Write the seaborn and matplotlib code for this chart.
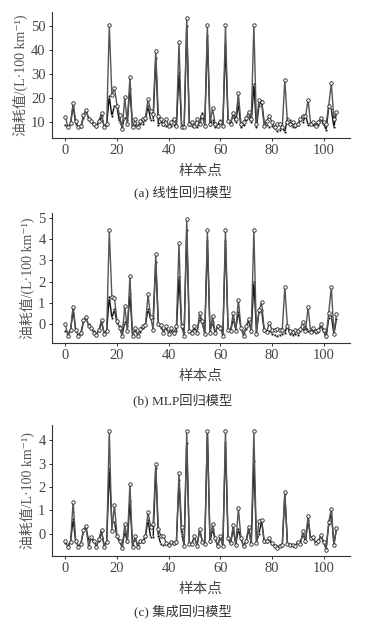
import numpy as np
import pandas as pd
import seaborn as sns
from matplotlib import pyplot as plt

# sample index 0..105
samples = list(range(106))

# (a) linear regression model: actual vs predicted
actual_a = [12.4, 7.9, 9.6, 17.9, 10.7, 7.9, 8.3, 13.0, 15.3, 11.4,
            10.7, 9.3, 8.3, 10.7, 13.9, 7.9, 9.3, 50.5, 21.4, 24.3,
            17.0, 13.0, 7.2, 20.4, 9.3, 29.0, 7.9, 11.4, 7.9, 10.7,
            11.4, 12.0, 19.7, 14.9, 13.5, 39.6, 12.5, 11.4, 9.3, 11.4,
            8.6, 10.0, 11.4, 8.6, 43.6, 7.9, 7.9, 53.6, 9.3, 10.0,
            8.6, 11.4, 9.3, 12.8, 8.6, 50.4, 9.3, 15.8, 9.3, 8.6,
            10.0, 8.6, 50.4, 10.7, 9.3, 13.9, 11.4, 22.2, 9.3, 10.0,
            12.0, 14.2, 11.4, 50.4, 9.3, 19.4, 18.3, 8.6, 10.7, 12.8,
            10.0, 7.9, 9.3, 9.3, 7.9, 27.6, 10.0, 9.3, 10.0, 8.9,
            9.3, 11.4, 12.8, 12.5, 19.4, 9.3, 10.0, 8.6, 10.0, 12.0,
            10.0, 9.3, 17.0, 26.3, 11.4, 14.4]
pred_a = [9.0, 8.0, 9.5, 17.0, 9.5, 8.5, 8.0, 12.0, 14.5, 12.0,
          10.0, 9.0, 8.0, 10.0, 12.5, 8.5, 9.0, 21.0, 12.5, 17.0,
          16.0, 10.0, 8.5, 12.0, 11.0, 24.0, 8.0, 9.0, 8.0, 9.5,
          9.5, 11.0, 17.0, 11.0, 11.0, 37.0, 9.0, 10.0, 9.0, 8.5,
          9.0, 8.5, 9.0, 8.5, 31.0, 9.0, 8.0, 50.0, 9.0, 8.5,
          9.0, 8.0, 10.0, 14.0, 9.0, 46.0, 9.0, 11.0, 8.0, 9.0,
          11.0, 9.0, 42.0, 11.0, 10.0, 13.0, 10.0, 18.0, 8.0, 9.0,
          11.0, 12.5, 10.0, 26.0, 8.0, 17.0, 19.0, 10.0, 9.0, 8.0,
          8.5, 7.5, 6.5, 7.0, 8.0, 6.0, 12.0, 11.0, 8.0, 8.0,
          9.0, 11.0, 10.0, 13.0, 9.0, 9.5, 9.0, 9.5, 9.0, 11.0,
          9.0, 7.0, 16.5, 15.5, 8.0, 14.0]

# (b) MLP regression model
actual_b = [0.0, -0.55, -0.25, 0.83, -0.25, -0.55, -0.4, 0.2, 0.33, -0.1,
            -0.15, -0.4, -0.5, -0.25, 0.2, -0.45, -0.3, 4.4, 1.3, 1.25,
            0.15, -0.15, -0.55, 0.88, -0.3, 2.28, -0.55, -0.15, -0.55, -0.2,
            -0.1, -0.05, 1.4, 0.35, -0.25, 3.3, 0.0, -0.05, -0.4, -0.1,
            -0.45, -0.15, -0.4, -0.1, 3.8, -0.1, -0.55, 4.95, -0.3, -0.4,
            -0.1, -0.4, 0.55, 0.15, -0.45, 4.4, -0.4, 0.4, -0.4, -0.1,
            -0.15, -0.55, 4.4, -0.25, -0.3, 0.55, -0.3, 1.15, -0.15, -0.55,
            -0.1, 0.25, -0.3, 4.4, -0.45, 0.65, 1.05, -0.25, -0.35, 0.08,
            -0.25, -0.25, -0.2, -0.25, -0.25, 1.75, -0.1, -0.3, -0.35, -0.28,
            -0.3, -0.2, 0.1, -0.3, 0.8, -0.35, -0.15, -0.3, -0.25, 0.0,
            -0.25, -0.55, 0.55, 1.75, -0.45, 0.5]
pred_b = [-0.3, -0.4, -0.3, 0.7, -0.3, -0.45, -0.45, 0.1, 0.25, 0.0,
          -0.2, -0.3, -0.45, -0.3, 0.1, -0.4, -0.3, 1.3, 0.3, 0.7,
          0.05, -0.1, -0.5, 0.1, -0.1, 1.4, -0.45, -0.3, -0.4, -0.35,
          -0.15, 0.0, 0.7, 0.3, 0.3, 2.9, 0.0, -0.15, -0.3, -0.2,
          -0.35, -0.3, -0.45, -0.3, 2.2, 0.0, -0.35, 4.4, -0.35, -0.3,
          -0.2, -0.35, 0.3, 0.05, -0.4, 3.9, -0.3, 0.1, -0.4, -0.05,
          -0.1, -0.45, 3.9, -0.2, -0.3, 0.25, -0.2, 0.6, -0.2, -0.4,
          -0.2, 0.2, -0.35, 2.0, -0.3, 0.6, 0.65, -0.3, -0.3, -0.3,
          -0.45, -0.5, -0.55, -0.5, -0.45, -0.4, -0.05, -0.45, -0.5, -0.45,
          -0.5, -0.3, -0.2, -0.1, -0.3, -0.35, -0.3, -0.4, -0.35, -0.05,
          -0.35, -0.6, 0.3, 0.4, -0.45, 0.25]

# (c) ensemble regression model
actual_c = [-0.33, -0.58, -0.37, 1.36, -0.3, -0.58, -0.44, 0.17, 0.31, -0.58,
            -0.16, -0.3, -0.58, -0.23, 0.17, -0.58, -0.37, 4.4, 0.13, 1.23,
            -0.1, -0.3, -0.62, 0.4, -0.3, 2.14, -0.58, -0.1, -0.58, -0.3,
            -0.3, -0.1, 0.93, 0.3, 0.4, 3.0, 0.2, -0.1, -0.1, -0.4,
            -0.5, -0.35, -0.4, -0.35, 2.6, 0.3, -0.55, 4.4, -0.45, -0.45,
            -0.1, -0.55, 0.2, -0.35, -0.45, 4.4, -0.3, 0.4, -0.2, -0.55,
            -0.1, -0.55, 4.4, -0.2, -0.4, 0.35, -0.5, 1.1, -0.2, -0.55,
            -0.3, 0.3, -0.45, 4.4, -0.4, 0.55, 0.6, -0.3, -0.3, -0.2,
            -0.4, -0.55, -0.6, -0.55, -0.5, 1.8, -0.45, -0.5, -0.5, -0.55,
            -0.35, -0.45, 0.1, -0.3, 0.75, -0.2, -0.15, -0.4, -0.3, -0.05,
            -0.35, -0.7, 0.5, 1.05, -0.5, 0.25]
pred_c = [-0.4, -0.5, -0.35, 0.62, -0.35, -0.5, -0.45, 0.1, 0.25, -0.3,
          -0.2, -0.35, -0.5, -0.3, 0.1, -0.5, -0.35, 2.75, 0.5, 0.5,
          -0.15, -0.35, -0.55, 0.1, -0.35, 1.4, -0.5, -0.2, -0.5, -0.35,
          -0.35, -0.15, 0.6, -0.15, -0.15, 2.8, -0.1, -0.45, -0.5, -0.45,
          -0.45, -0.4, -0.45, -0.4, 2.3, 0.0, -0.5, 3.9, -0.4, -0.4,
          -0.15, -0.5, 0.15, -0.3, -0.4, 4.4, -0.35, 0.2, -0.25, -0.5,
          -0.15, -0.5, 3.9, -0.25, -0.4, 0.2, -0.45, 0.2, -0.25, -0.5,
          -0.35, 0.2, -0.45, 3.1, -0.35, 0.0, 0.55, -0.35, -0.35, -0.25,
          -0.45, -0.5, -0.55, -0.5, -0.5, 1.7, -0.4, -0.45, -0.5, -0.5,
          -0.4, -0.4, 0.0, -0.35, 0.6, -0.25, -0.2, -0.4, -0.35, -0.1,
          -0.4, -0.6, 0.4, 0.9, -0.45, 0.2]

captions = ["(a) 线性回归模型", "(b) MLP回归模型", "(c) 集成回归模型"]
ylabels = ["油耗值/(L·100 km⁻¹)", "油耗值/(L·100 km⁻¹)", "油耗值/L·100 km⁻¹)"]
yticks = [[10, 20, 30, 40, 50], [0, 1, 2, 3, 4, 5], [0, 1, 2, 3, 4]]

sns.set_style("ticks")
plt.rcParams["font.family"] = ["Liberation Serif", "Noto Sans CJK SC", "DejaVu Serif"]

fig = plt.figure(figsize=(3.65, 6.26), dpi=100)
# axes boxes [left, bottom, width, height] in figure fractions
boxes = [[0.142, 0.780, 0.817, 0.201],
         [0.142, 0.452, 0.817, 0.208],
         [0.142, 0.112, 0.817, 0.209]]
caption_y = [0.692, 0.361, 0.023]
text_col = "#454545"

for k, (act, pred) in enumerate([(actual_a, pred_a), (actual_b, pred_b), (actual_c, pred_c)]):
    ax = fig.add_axes(boxes[k])
    df = pd.DataFrame({"x": samples, "actual": act, "pred": pred})
    sns.lineplot(data=df, x="x", y="pred", ax=ax, color="#111111", lw=1.0,
                 marker="o", markersize=2.0, markeredgewidth=0.4)
    sns.lineplot(data=df, x="x", y="actual", ax=ax, color="#555555", lw=1.0,
                 marker="o", markersize=2.5, markerfacecolor="white",
                 markeredgecolor="#222222", markeredgewidth=0.6)
    ax.set_xticks([0, 20, 40, 60, 80, 100])
    ax.set_yticks(yticks[k])
    ax.tick_params(labelsize=10.5, labelcolor=text_col, length=2.5, width=0.7,
                   color="#333333", pad=2)
    ax.set_xlabel("样本点", fontsize=10.5, color=text_col, labelpad=5)
    ax.set_ylabel(ylabels[k], fontsize=10, color="#555555", labelpad=2)
    for s in ["left", "bottom"]:
        ax.spines[s].set_linewidth(0.8)
        ax.spines[s].set_color("#333333")
    sns.despine(ax=ax)
    fig.text(0.5, caption_y[k], captions[k], ha="center", va="center",
             fontsize=9.5, color="#333333")

fig.savefig("out.png", dpi=100)
